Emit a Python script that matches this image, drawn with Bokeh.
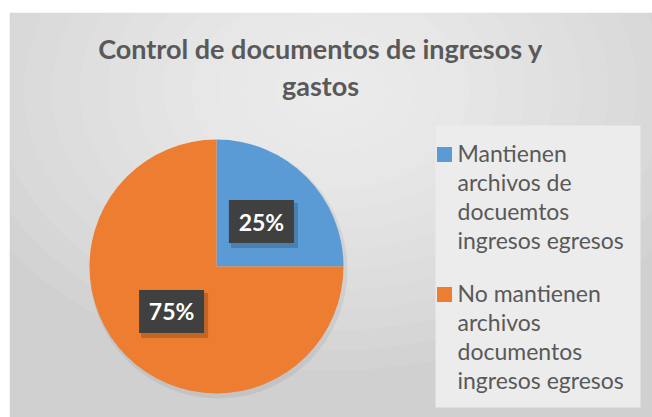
import numpy as np
from bokeh.plotting import figure
from bokeh.models import ColumnDataSource, Range1d
from bokeh.core.properties import value
from bokeh.embed import file_html
from bokeh.resources import INLINE

# ---- data ----
categories = ["Mantienen archivos de docuemtos ingresos egresos",
              "No mantienen archivos documentos ingresos egresos"]
legend_lines = [["Mantienen", "archivos de", "docuemtos", "ingresos egresos"],
                ["No mantienen", "archivos", "documentos", "ingresos egresos"]]
shares = [25, 75]
colors = ["#5b9bd5", "#ed7d31"]
title_lines = ["Control de documentos de ingresos y", "gastos"]

W, H = 652, 417
FONT = "Lato"

p = figure(width=W, height=H, output_backend="svg", toolbar_location=None,
           x_range=Range1d(0, W), y_range=Range1d(0, H), min_border=0)
p.axis.visible = False
p.grid.visible = False
p.outline_line_color = None
p.background_fill_color = "white"
p.border_fill_color = "white"

def Y(py):
    return H - py

# chart area background with a soft radial gradient
p.quad(left=9, right=W, bottom=Y(417), top=Y(12), fill_color="#d0d0d0", line_color=None)
n = 14
for i in range(n):
    f = 1 - i / n
    p.ellipse(x=330, y=Y(90), width=780 * f, height=560 * f,
              fill_color="white", fill_alpha=0.075, line_color=None)
# re-mask outside area
p.quad(left=0, right=9, bottom=0, top=H, fill_color="white", line_color=None)
p.quad(left=0, right=W, bottom=Y(12), top=H, fill_color="white", line_color=None)

# title
for i, t in enumerate(title_lines):
    p.text(x=[320], y=[Y(48 + 37 * i)], text=[t], text_font=value(FONT),
           text_font_style="bold", text_font_size="27px", text_color="#595959",
           text_align="center", text_baseline="middle")

# pie
cx, cy, r = 216, Y(266), 127
frac = np.array(shares, dtype=float) / sum(shares)
cum = np.concatenate([[0], np.cumsum(frac)])
start = np.pi / 2 - 2 * np.pi * cum[1:]
end = np.pi / 2 - 2 * np.pi * cum[:-1]
src = ColumnDataSource(dict(start=start, end=end, color=colors))
# faint shadow
p.circle(x=cx + 2, y=cy - 3, radius=r + 2, fill_color="#000000", fill_alpha=0.06, line_color=None)
p.wedge(x=cx, y=cy, radius=r, start_angle="start", end_angle="end", direction="anticlock",
        fill_color="color", line_color=None, source=src)

# data labels
mid = (start + end) / 2
lx = cx + 0.5 * r * np.cos(mid)
ly = cy + 0.5 * r * np.sin(mid)
labels = [f"{s}%" for s in shares]
p.rect(x=lx + 3, y=ly - 4, width=67, height=45, fill_color="#000000", fill_alpha=0.18, line_color=None)
p.rect(x=lx, y=ly, width=65, height=43, fill_color="#404040", line_color=None)
p.text(x=lx, y=ly, text=labels, text_font=value(FONT), text_font_style="bold",
       text_font_size="23px", text_color="white", text_align="center", text_baseline="middle")

# legend box
p.quad(left=435, right=640, bottom=Y(407), top=Y(125), fill_color="#ececec", line_color=None)
entry_y0 = [152, 292]
for k in range(len(categories)):
    y0 = entry_y0[k]
    p.rect(x=[444], y=[Y(y0 + 2)], width=15, height=15, fill_color=colors[k], line_color=None)
    lines = legend_lines[k]
    p.text(x=[457] * len(lines), y=[Y(y0 + 29.3 * j) for j in range(len(lines))], text=lines,
           text_font=value(FONT), text_font_size="23px", text_color="#595959",
           text_align="left", text_baseline="middle")

open("out.html", "w").write(file_html(p, INLINE))
